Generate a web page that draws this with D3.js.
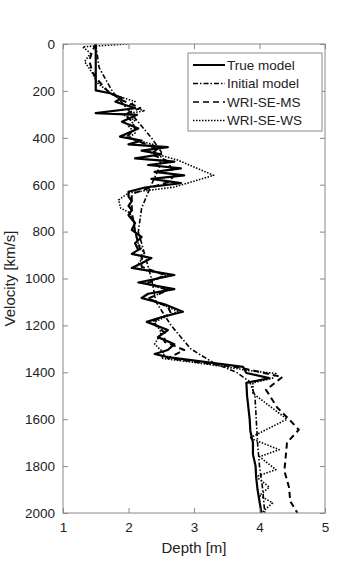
<!DOCTYPE html>
<html>
<head>
<meta charset="utf-8">
<script src="https://cdn.jsdelivr.net/npm/d3@7"></script>
<style>
  body { margin: 0; background: #fff; }
  svg { display: block; font-family: 'Liberation Sans', Arial, sans-serif; }
</style>
</head>
<body>
<div id="chart"></div>
<script>
// each point is [velocity, depth]
const trueModel = [
  [0, 1.5], [198, 1.5], [210, 1.72], [230, 1.9], [246, 1.8], [274, 2.1], [295, 1.5],
  [302, 2.13], [332, 1.9], [360, 2.15], [395, 1.87], [412, 2.2], [428, 2.0], [440, 2.6],
  [455, 2.2], [470, 2.5], [488, 2.1], [502, 2.7], [516, 2.3], [530, 2.8], [545, 2.4],
  [560, 2.85], [575, 2.35], [593, 2.8], [612, 2.25], [630, 2.0], [650, 2.0], [670, 2.05],
  [690, 2.0], [708, 2.05], [730, 2.0], [763, 2.1], [793, 2.05], [823, 2.2], [850, 2.1],
  [878, 2.15], [895, 2.05], [913, 2.35], [935, 2.2], [955, 2.05], [985, 2.7], [1017, 2.15],
  [1045, 2.7], [1065, 2.3], [1083, 2.2], [1110, 2.55], [1142, 2.83], [1165, 2.5],
  [1185, 2.28], [1220, 2.6], [1250, 2.45], [1280, 2.7], [1305, 2.6], [1322, 2.4],
  [1335, 2.6], [1377, 3.75], [1403, 3.8], [1425, 4.15], [1445, 3.8], [1500, 3.81],
  [1550, 3.83], [1600, 3.85], [1650, 3.86], [1700, 3.9], [1750, 3.9], [1800, 3.94],
  [1850, 3.95], [1900, 3.97], [1950, 4.0], [2000, 4.03],
]
const initialModel = [
  [0, 1.5], [100, 1.55], [200, 1.75], [300, 2.05], [400, 2.35], [460, 2.5], [520, 2.48],
  [600, 2.35], [700, 2.2], [800, 2.15], [900, 2.25], [1000, 2.35], [1100, 2.42],
  [1200, 2.65], [1300, 2.95], [1360, 3.3], [1400, 3.65], [1440, 3.85], [1500, 3.93],
  [1600, 3.95], [1700, 3.97], [1800, 4.0], [1900, 4.05], [2000, 4.08],
]
const wriSeMs = [
  [0, 1.5], [30, 1.45], [70, 1.4], [120, 1.45], [160, 1.55], [200, 1.68], [240, 1.9],
  [273, 2.18], [300, 1.95], [330, 2.05], [360, 2.1], [395, 1.98], [420, 2.2], [445, 2.45],
  [470, 2.35], [500, 2.6], [530, 2.65], [560, 2.7], [590, 2.6], [615, 2.3], [640, 2.05],
  [680, 2.05], [720, 2.05], [760, 2.08], [800, 2.1], [850, 2.15], [900, 2.2], [950, 2.2],
  [985, 2.55], [1020, 2.3], [1050, 2.6], [1085, 2.3], [1120, 2.6], [1150, 2.65],
  [1185, 2.35], [1230, 2.55], [1270, 2.55], [1305, 2.85], [1340, 2.6], [1380, 3.7],
  [1420, 4.35], [1475, 4.1], [1550, 4.27], [1600, 4.45], [1645, 4.6], [1700, 4.42],
  [1760, 4.4], [1820, 4.38], [1890, 4.45], [1950, 4.47], [2000, 4.58],
]
const wriSeWs = [
  [0, 1.98], [12, 1.3], [40, 1.42], [75, 1.33], [125, 1.45], [165, 1.52], [215, 1.75],
  [245, 2.1], [265, 2.0], [285, 2.25], [300, 1.9], [325, 2.1], [350, 2.0], [380, 2.1],
  [400, 2.0], [430, 2.4], [460, 2.3], [495, 2.75], [560, 3.3], [610, 2.7], [635, 2.0],
  [665, 1.85], [700, 1.88], [720, 2.02], [760, 2.08], [800, 2.1], [850, 2.15], [900, 2.25],
  [955, 2.1], [985, 2.6], [1020, 2.25], [1050, 2.6], [1085, 2.3], [1140, 2.75],
  [1185, 2.4], [1230, 2.5], [1280, 2.4], [1320, 2.55], [1340, 2.5], [1365, 3.2],
  [1395, 3.9], [1405, 4.25], [1425, 4.2], [1445, 3.9], [1490, 3.9], [1600, 4.42],
  [1680, 3.85], [1730, 4.3], [1760, 4.0], [1815, 4.25], [1845, 3.95], [1890, 4.15],
  [1925, 4.0], [1957, 4.2], [1995, 4.05],
]

const seriesNames = ['True model', 'Initial model', 'WRI-SE-MS', 'WRI-SE-WS']
const seriesData = [trueModel, initialModel, wriSeMs, wriSeWs]
const seriesDash = [null, '5,2,1.5,2', '6,4', '1.5,1.5']
const seriesWidth = [2.2, 1.6, 2, 1.6]

const xTicks = [1, 2, 3, 4, 5]
const yTicks = [0, 200, 400, 600, 800, 1000, 1200, 1400, 1600, 1800, 2000]

const width = 360
const height = 576
const margin = { top: 44, right: 35, bottom: 63, left: 63 }
const innerW = width - margin.left - margin.right
const innerH = height - margin.top - margin.bottom

const svg = d3.select('#chart').append('svg')
  .attr('width', width)
  .attr('height', height)

const bounds = svg.append('g')
  .attr('transform', `translate(${margin.left}, ${margin.top})`)

const xScale = d3.scaleLinear().domain([1, 5]).range([0, innerW])
const yScale = d3.scaleLinear().domain([0, 2000]).range([0, innerH])

// clip so lines stay inside the frame
svg.append('defs').append('clipPath').attr('id', 'clip')
  .append('rect').attr('width', innerW).attr('height', innerH)

const line = d3.line()
  .x((d) => xScale(d[1]))
  .y((d) => yScale(d[0]))

const lines = bounds.append('g').attr('clip-path', 'url(#clip)')
seriesData.forEach((data, i) => {
  lines.append('path')
    .datum(data)
    .attr('fill', 'none')
    .attr('stroke', '#000')
    .attr('stroke-width', seriesWidth[i])
    .attr('stroke-dasharray', seriesDash[i])
    .attr('stroke-linejoin', 'round')
    .attr('d', line)
})

// axes: ticks point inward on all four sides
const axisColor = '#888'
const fmt = d3.format('d')
const styleAxis = (g) => {
  g.select('.domain').remove()
  g.selectAll('.tick line').attr('stroke', axisColor)
  g.selectAll('.tick text').attr('fill', '#222').style('font-size', '13.5px')
}

bounds.append('g')
  .attr('transform', `translate(0, ${innerH})`)
  .call(d3.axisBottom(xScale).tickValues(xTicks).tickFormat(fmt).tickSize(-5).tickPadding(9))
  .call(styleAxis)
bounds.append('g')
  .call(d3.axisTop(xScale).tickValues(xTicks).tickSize(-5).tickFormat(''))
  .call(styleAxis)
bounds.append('g')
  .call(d3.axisLeft(yScale).tickValues(yTicks).tickFormat(fmt).tickSize(-5).tickPadding(8))
  .call(styleAxis)
bounds.append('g')
  .attr('transform', `translate(${innerW}, 0)`)
  .call(d3.axisRight(yScale).tickValues(yTicks).tickSize(-5).tickFormat(''))
  .call(styleAxis)

bounds.append('rect')
  .attr('width', innerW)
  .attr('height', innerH)
  .attr('fill', 'none')
  .attr('stroke', axisColor)

// axis titles
svg.append('text')
  .attr('x', margin.left + innerW / 2)
  .attr('y', 553)
  .attr('text-anchor', 'middle')
  .style('font-size', '15px')
  .attr('fill', '#222')
  .text('Depth [m]')

svg.append('text')
  .attr('transform', `translate(15, ${margin.top + innerH / 2}) rotate(-90)`)
  .attr('text-anchor', 'middle')
  .style('font-size', '15px')
  .attr('fill', '#222')
  .text('Velocity [km/s]')

// legend
const legend = svg.append('g').attr('transform', 'translate(188, 53)')
legend.append('rect')
  .attr('width', 134)
  .attr('height', 78)
  .attr('fill', '#fff')
  .attr('stroke', axisColor)

seriesNames.forEach((name, i) => {
  const y = 12 + i * 18.5
  legend.append('line')
    .attr('x1', 5).attr('x2', 37)
    .attr('y1', y).attr('y2', y)
    .attr('stroke', '#000')
    .attr('stroke-width', i === 0 ? 2 : 1.6)
    .attr('stroke-dasharray', seriesDash[i])
  legend.append('text')
    .attr('x', 39)
    .attr('y', y)
    .attr('dy', '0.35em')
    .style('font-size', '13.5px')
    .attr('fill', '#222')
    .text(name)
})
</script>
</body>
</html>
